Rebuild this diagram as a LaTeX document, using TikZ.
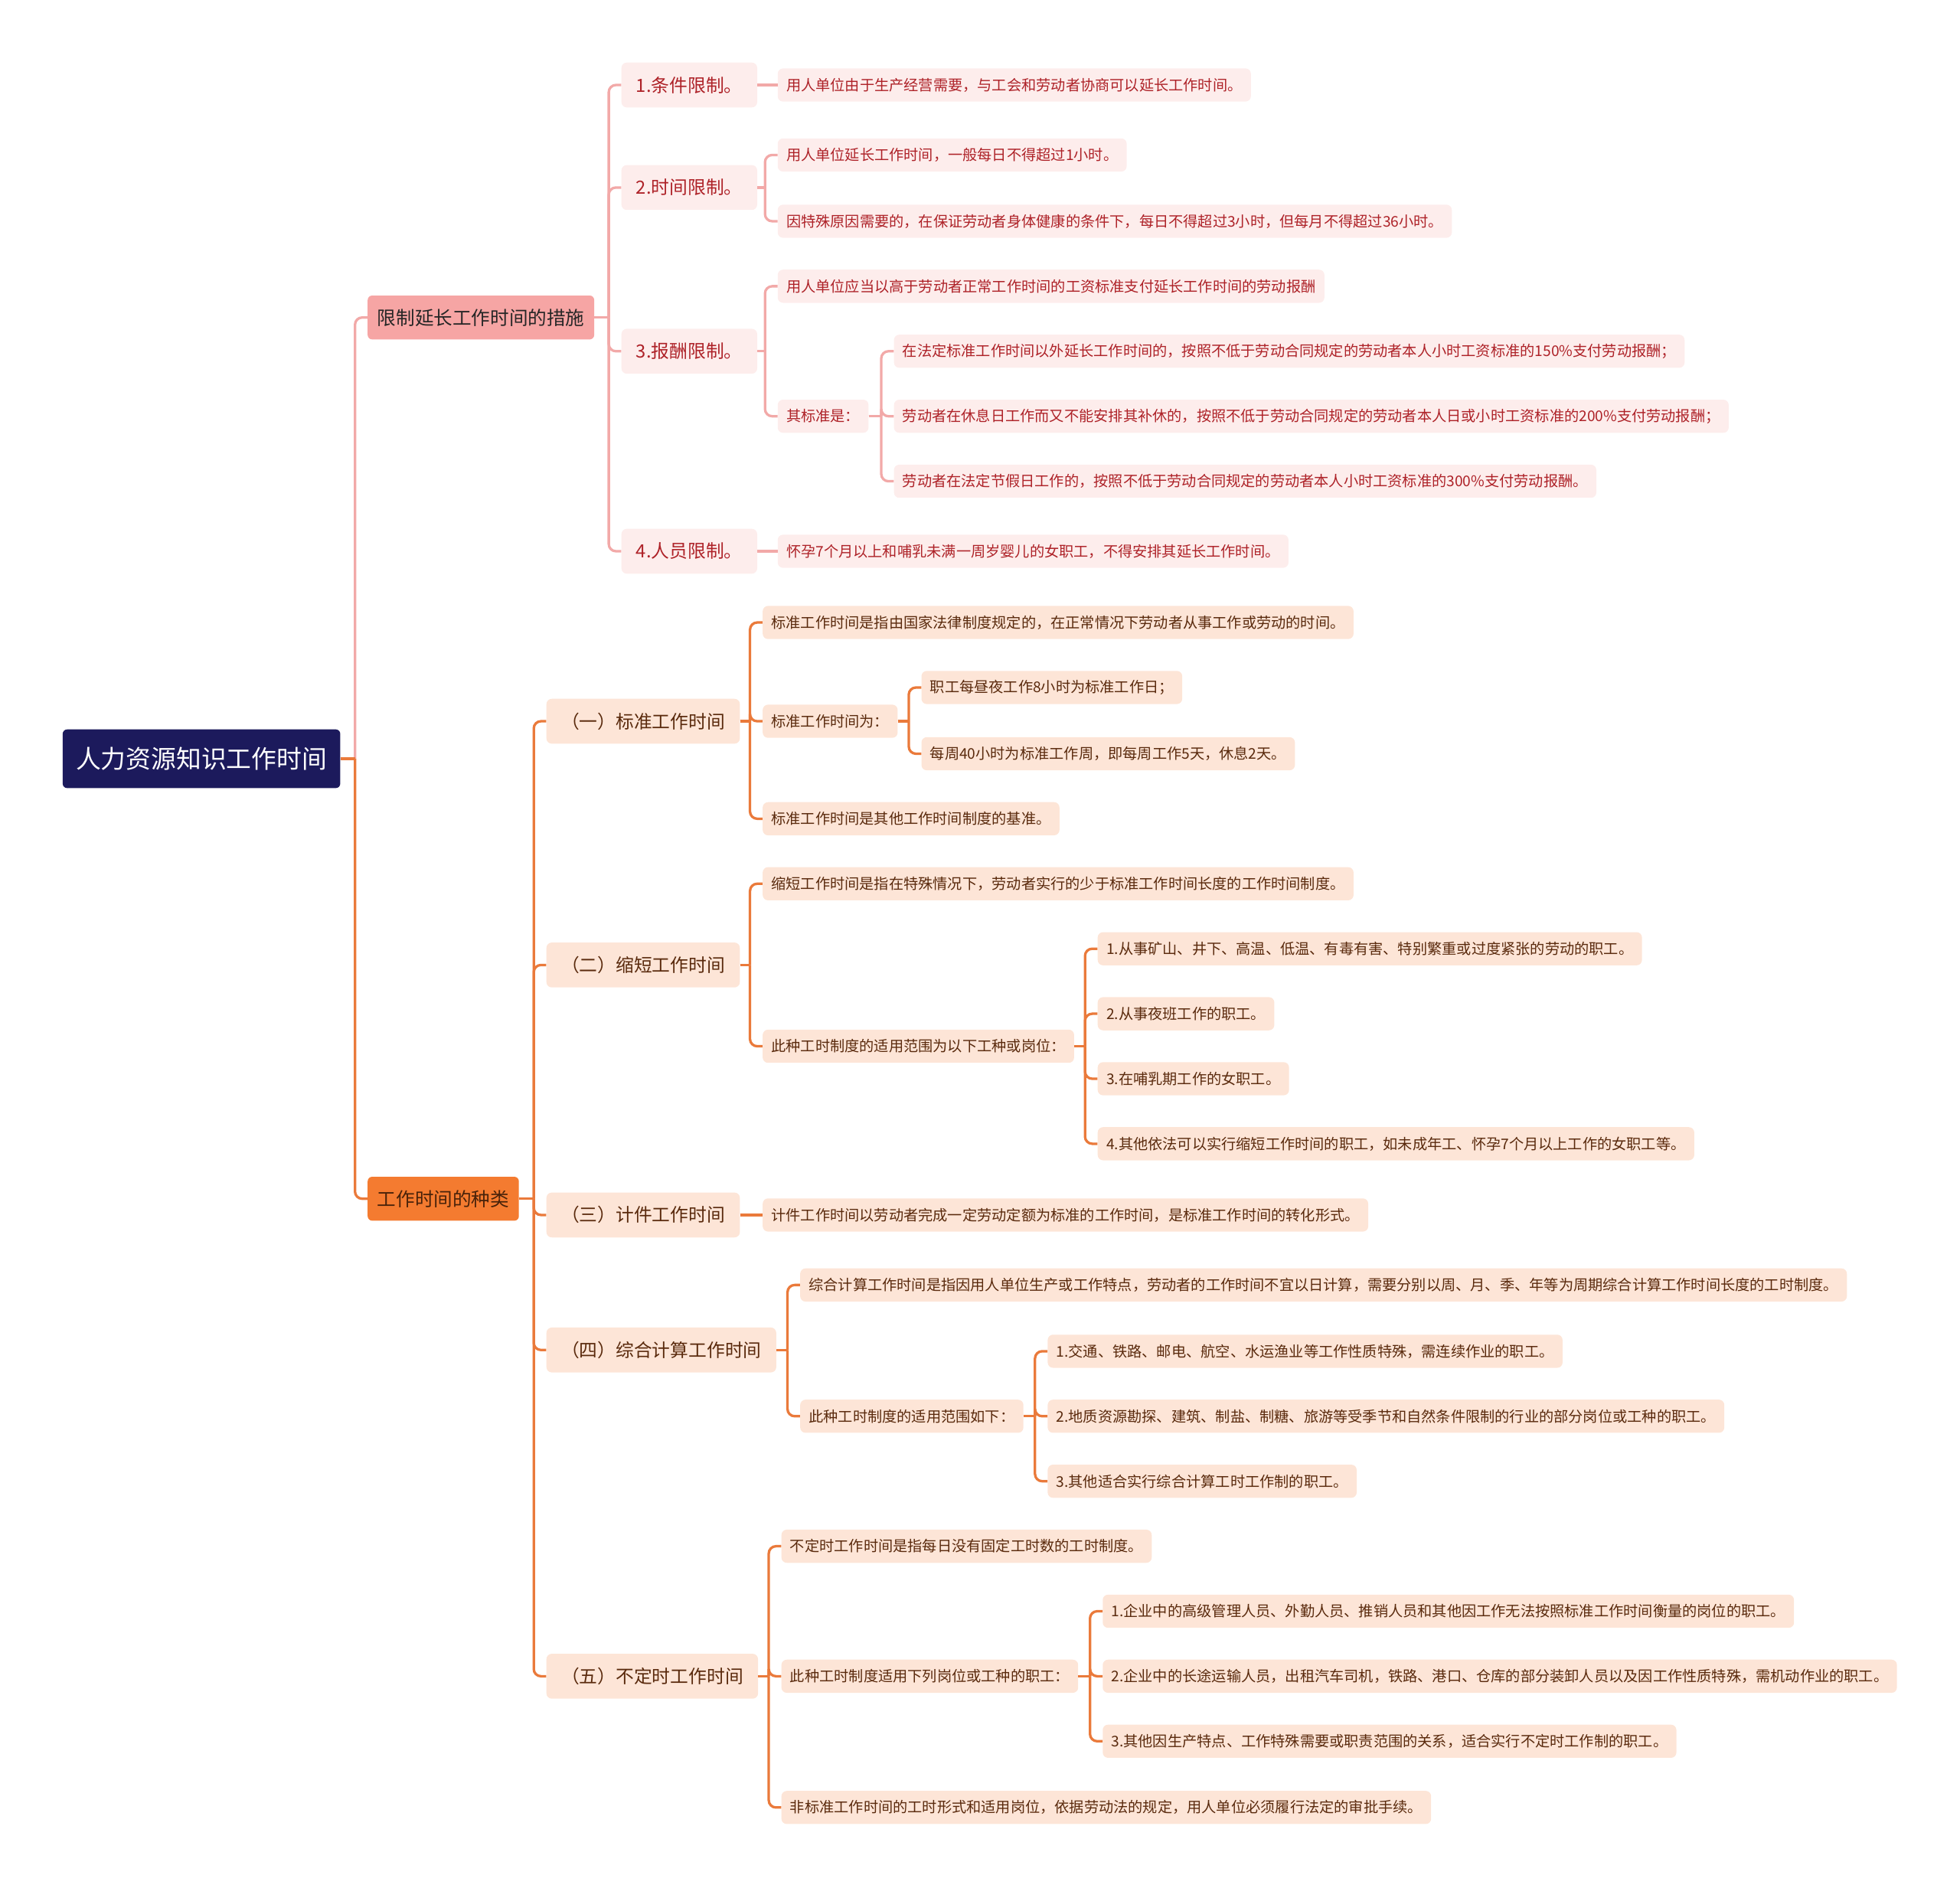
\documentclass[tikz,border=0pt]{standalone}
\usepackage{fontspec}
\setmainfont{Noto Sans CJK SC}
\usetikzlibrary{calc}
\definecolor{rootblue}{HTML}{1C1A5C}
\definecolor{pinkmain}{HTML}{F6A5A4}
\definecolor{pinkfill}{HTML}{FDEDEC}
\definecolor{pinktext}{HTML}{AE2228}
\definecolor{pinkline}{HTML}{F2A9A8}
\definecolor{orangemain}{HTML}{F47B30}
\definecolor{peachfill}{HTML}{FDE5D7}
\definecolor{browntext}{HTML}{5A2A0D}
\definecolor{orangeline}{HTML}{EA7A3B}
\newcommand{\mmlink}[3]{%
  \path (#3.west) ++(-10,0) coordinate (spine);
  \draw[#1] (#2.east) -- (spine |- #2.east);
  \draw[#1, rounded corners=8pt] (spine |- #2.east) |- (#3.west);
}
\newcommand{\mmline}[3]{\draw[#1] (#2.east) -- (#3.west);}

\begin{document}
\begin{tikzpicture}[
	x=0.049cm, y=-0.049cm,
	rootbox/.style={rectangle, rounded corners=5pt, fill=rootblue, text=white,
		anchor=west, inner xsep=0.52cm, minimum height=2.3cm,
		font=\fontsize{28}{32}\selectfont},
	mainbox/.style={rectangle, rounded corners=5pt, anchor=west,
		inner xsep=0.38cm, minimum height=1.72cm,
		font=\fontsize{21}{25}\selectfont},
	pinkmainbox/.style={mainbox, fill=pinkmain, text=black!85},
	orangemainbox/.style={mainbox, fill=orangemain, text=browntext!80!black},
	subbox/.style={rectangle, rounded corners=6pt, anchor=west,
		inner xsep=0.58cm, minimum height=1.76cm,
		font=\fontsize{20.3}{24}\selectfont},
	pinksub/.style={subbox, fill=pinkfill, text=pinktext},
	orangesub/.style={subbox, fill=peachfill, text=browntext},
	leaf/.style={rectangle, rounded corners=6pt, anchor=west,
		inner xsep=0.34cm, minimum height=1.3cm,
		font=\fontsize{16.4}{19}\selectfont},
	pinkleaf/.style={leaf, fill=pinkfill, text=pinktext},
	orangeleaf/.style={leaf, fill=peachfill, text=browntext},
	pinklink/.style={draw=pinkline, line width=2.8pt},
	orangelink/.style={draw=orangeline, line width=2.8pt}
	]
	\useasboundingbox (0,0) rectangle (1568,1510);

	\node[rootbox] (root) at (50,607) {人力资源知识工作时间};
	\node[pinkmainbox] (limit) at (294,254) {限制延长工作时间的措施};
	\node[orangemainbox] (kinds) at (294,959) {工作时间的种类};

	\node[pinksub] (cond) at (497,68) {1.条件限制。};
	\node[pinksub] (time) at (497,150) {2.时间限制。};
	\node[pinksub] (pay) at (497,281) {3.报酬限制。};
	\node[pinksub] (staff) at (497,441) {4.人员限制。};

	\node[pinkleaf] (condA) at (622,68) {用人单位由于生产经营需要，与工会和劳动者协商可以延长工作时间。};
	\node[pinkleaf] (timeA) at (622,124) {用人单位延长工作时间，一般每日不得超过1小时。};
	\node[pinkleaf] (timeB) at (622,177) {因特殊原因需要的，在保证劳动者身体健康的条件下，每日不得超过3小时，但每月不得超过36小时。};
	\node[pinkleaf] (payA) at (622,229) {用人单位应当以高于劳动者正常工作时间的工资标准支付延长工作时间的劳动报酬};
	\node[pinkleaf] (payB) at (622,333) {其标准是：};
	\node[pinkleaf] (payB1) at (715,281) {在法定标准工作时间以外延长工作时间的，按照不低于劳动合同规定的劳动者本人小时工资标准的150\%支付劳动报酬；};
	\node[pinkleaf] (payB2) at (715,333) {劳动者在休息日工作而又不能安排其补休的，按照不低于劳动合同规定的劳动者本人日或小时工资标准的200\%支付劳动报酬；};
	\node[pinkleaf] (payB3) at (715,385) {劳动者在法定节假日工作的，按照不低于劳动合同规定的劳动者本人小时工资标准的300\%支付劳动报酬。};
	\node[pinkleaf] (staffA) at (622,441) {怀孕7个月以上和哺乳未满一周岁婴儿的女职工，不得安排其延长工作时间。};

	\node[orangesub] (std) at (437,577) {（一）标准工作时间};
	\node[orangesub] (short) at (437,772) {（二）缩短工作时间};
	\node[orangesub] (piece) at (437,972) {（三）计件工作时间};
	\node[orangesub] (comb) at (437,1080) {（四）综合计算工作时间};
	\node[orangesub] (free) at (437,1341) {（五）不定时工作时间};

	\node[orangeleaf] (stdA) at (610,498) {标准工作时间是指由国家法律制度规定的，在正常情况下劳动者从事工作或劳动的时间。};
	\node[orangeleaf] (stdB) at (610,577) {标准工作时间为：};
	\node[orangeleaf] (stdB1) at (737,550) {职工每昼夜工作8小时为标准工作日；};
	\node[orangeleaf] (stdB2) at (737,603) {每周40小时为标准工作周，即每周工作5天，休息2天。};
	\node[orangeleaf] (stdC) at (610,655) {标准工作时间是其他工作时间制度的基准。};

	\node[orangeleaf] (shortA) at (610,707) {缩短工作时间是指在特殊情况下，劳动者实行的少于标准工作时间长度的工作时间制度。};
	\node[orangeleaf] (shortB) at (610,837) {此种工时制度的适用范围为以下工种或岗位：};
	\node[orangeleaf] (shortB1) at (878,759) {1.从事矿山、井下、高温、低温、有毒有害、特别繁重或过度紧张的劳动的职工。};
	\node[orangeleaf] (shortB2) at (878,811) {2.从事夜班工作的职工。};
	\node[orangeleaf] (shortB3) at (878,863) {3.在哺乳期工作的女职工。};
	\node[orangeleaf] (shortB4) at (878,915) {4.其他依法可以实行缩短工作时间的职工，如未成年工、怀孕7个月以上工作的女职工等。};

	\node[orangeleaf] (pieceA) at (610,972) {计件工作时间以劳动者完成一定劳动定额为标准的工作时间，是标准工作时间的转化形式。};

	\node[orangeleaf] (combA) at (640,1028) {综合计算工作时间是指因用人单位生产或工作特点，劳动者的工作时间不宜以日计算，需要分别以周、月、季、年等为周期综合计算工作时间长度的工时制度。};
	\node[orangeleaf] (combB) at (640,1133) {此种工时制度的适用范围如下：};
	\node[orangeleaf] (combB1) at (838,1081) {1.交通、铁路、邮电、航空、水运渔业等工作性质特殊，需连续作业的职工。};
	\node[orangeleaf] (combB2) at (838,1133) {2.地质资源勘探、建筑、制盐、制糖、旅游等受季节和自然条件限制的行业的部分岗位或工种的职工。};
	\node[orangeleaf] (combB3) at (838,1185) {3.其他适合实行综合计算工时工作制的职工。};

	\node[orangeleaf] (freeA) at (625,1237) {不定时工作时间是指每日没有固定工时数的工时制度。};
	\node[orangeleaf] (freeB) at (625,1341) {此种工时制度适用下列岗位或工种的职工：};
	\node[orangeleaf] (freeB1) at (882,1289) {1.企业中的高级管理人员、外勤人员、推销人员和其他因工作无法按照标准工作时间衡量的岗位的职工。};
	\node[orangeleaf] (freeB2) at (882,1341) {2.企业中的长途运输人员，出租汽车司机，铁路、港口、仓库的部分装卸人员以及因工作性质特殊，需机动作业的职工。};
	\node[orangeleaf] (freeB3) at (882,1393) {3.其他因生产特点、工作特殊需要或职责范围的关系，适合实行不定时工作制的职工。};
	\node[orangeleaf] (freeC) at (625,1446) {非标准工作时间的工时形式和适用岗位，依据劳动法的规定，用人单位必须履行法定的审批手续。};

	\mmlink{pinklink}{root}{limit}
	\mmlink{orangelink}{root}{kinds}
	\foreach \c in {cond,time,pay,staff} {\mmlink{pinklink}{limit}{\c}}
	\mmline{pinklink}{cond}{condA}
	\mmlink{pinklink}{time}{timeA}
	\mmlink{pinklink}{time}{timeB}
	\mmlink{pinklink}{pay}{payA}
	\mmlink{pinklink}{pay}{payB}
	\foreach \c in {payB1,payB2,payB3} {\mmlink{pinklink}{payB}{\c}}
	\mmline{pinklink}{staff}{staffA}

	\foreach \c in {std,short,piece,comb,free} {\mmlink{orangelink}{kinds}{\c}}
	\foreach \c in {stdA,stdB,stdC} {\mmlink{orangelink}{std}{\c}}
	\foreach \c in {stdB1,stdB2} {\mmlink{orangelink}{stdB}{\c}}
	\foreach \c in {shortA,shortB} {\mmlink{orangelink}{short}{\c}}
	\foreach \c in {shortB1,shortB2,shortB3,shortB4} {\mmlink{orangelink}{shortB}{\c}}
	\mmline{orangelink}{piece}{pieceA}
	\foreach \c in {combA,combB} {\mmlink{orangelink}{comb}{\c}}
	\foreach \c in {combB1,combB2,combB3} {\mmlink{orangelink}{combB}{\c}}
	\foreach \c in {freeA,freeB,freeC} {\mmlink{orangelink}{free}{\c}}
	\foreach \c in {freeB1,freeB2,freeB3} {\mmlink{orangelink}{freeB}{\c}}
\end{tikzpicture}
\end{document}
